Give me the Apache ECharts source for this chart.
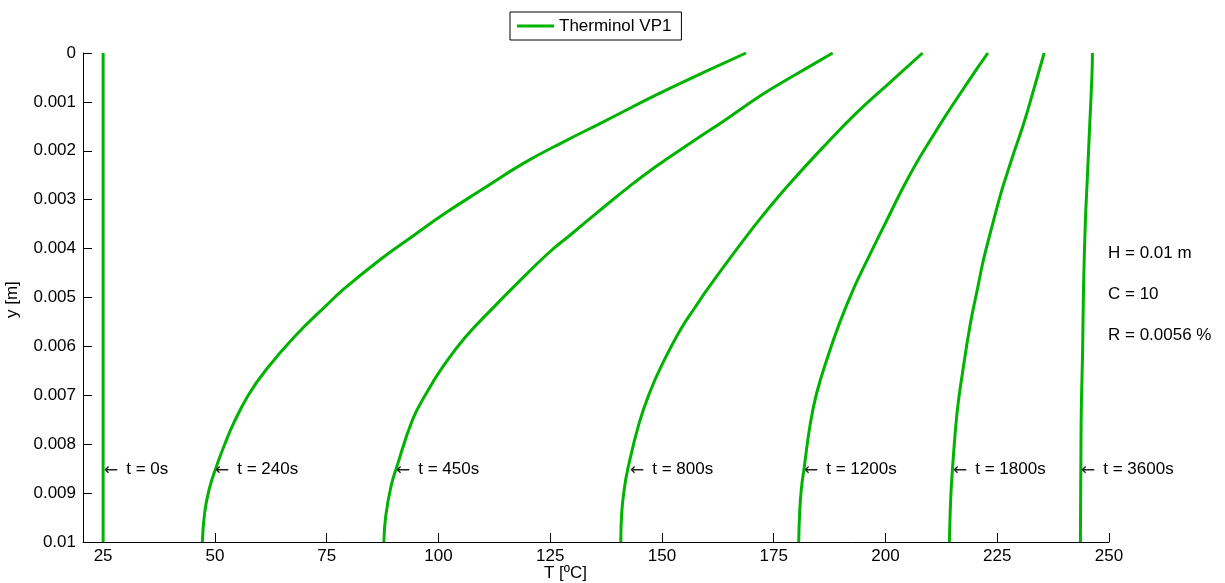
<!DOCTYPE html>
<html>
<head>
<meta charset="utf-8">
<script src="https://cdn.jsdelivr.net/npm/echarts@6/dist/echarts.min.js"></script>
<style>
html,body{margin:0;padding:0;background:#fff;}
#chart{width:1225px;height:583px;}
</style>
</head>
<body>
<div id="chart"></div>
<script>
// ---- data ([T in ºC, y in m]) ----
const curve0 = [[25, 0], [25, 0.01]];
const curve240 = [[168.8,0],[157.1,0.000494],[148.5,0.000868],[136.8,0.001413],[127.9,0.001821],[118.9,0.002262],[110.1,0.002773],[101.4,0.003283],[94.0,0.003761],[87.3,0.004202],[79.0,0.004814],[75.0,0.005155],[67.8,0.005802],[61.4,0.006482],[57.5,0.006993],[54.2,0.00757],[52.3,0.00798],[50.2,0.00849],[48.7,0.00893],[47.7,0.00941],[47.2,0.01]];
const curve450 = [[188.2,0],[180.2,0.000425],[172.7,0.000833],[164.0,0.001378],[157.3,0.001786],[148.5,0.002332],[142.1,0.002773],[135.7,0.00325],[129.9,0.003691],[124.5,0.0041],[116.5,0.004814],[113.2,0.00512],[106.1,0.005802],[101.0,0.006415],[97.3,0.006958],[94.2,0.007503],[90.6,0.00849],[89.4,0.00886],[88.2,0.00948],[87.8,0.01]];
const curve800 = [[208.3,0],[201.1,0.000596],[193.7,0.001209],[186.8,0.001854],[178.6,0.00267],[172.3,0.003352],[167.7,0.003895],[160.3,0.004814],[157.5,0.00519],[154.1,0.005666],[149.8,0.006415],[147.2,0.006958],[144.9,0.00757],[142.4,0.00849],[141.6,0.0089],[141.0,0.0094],[140.8,0.01]];
const curve1200 = [[222.9,0],[220.7,0.00029],[216.7,0.000833],[213.5,0.001276],[210.0,0.001786],[207.5,0.00216],[204.0,0.00274],[200.3,0.00342],[195.9,0.004236],[192.9,0.004814],[189.7,0.005529],[187.1,0.00621],[184.6,0.006958],[183.2,0.00757],[181.8,0.00849],[181.2,0.0089],[180.8,0.0094],[180.6,0.01]];
const curve1800 = [[235.5,0],[233.1,0.000766],[230.9,0.001446],[228.4,0.002127],[227.2,0.002466],[225.8,0.002875],[223.8,0.003556],[221.9,0.004236],[220.6,0.004814],[219.0,0.005529],[217.1,0.006619],[216.0,0.007366],[215.0,0.00849],[214.6,0.0091],[214.3,0.01]];
const curve3600 = [[246.3,0],[246.2,0.000425],[245.7,0.001446],[245.2,0.002466],[244.7,0.003487],[244.3,0.004814],[244.1,0.006074],[243.8,0.0073],[243.7,0.00849],[243.6,0.01]];

const curves = [curve0, curve240, curve450, curve800, curve1200, curve1800, curve3600];
const seriesName = 'Therminol VP1';

const labelTexts = ['t = 0s', 't = 240s', 't = 450s', 't = 800s', 't = 1200s', 't = 1800s', 't = 3600s'];
const labelT = [25.3, 50.1, 90.5, 142.8, 181.8, 215.1, 243.8];
const labelDepth = 0.0085;

const xTicks = [25, 50, 75, 100, 125, 150, 175, 200, 225, 250];
const xMin = 20.5, xMax = 250;
const yMin = 0, yMax = 0.01, yStep = 0.001;

const noteTexts = ['H = 0.01 m', 'C = 10', 'R = 0.0056 %'];

// ---- chart ----
const FONT = "'Liberation Sans', Arial, Helvetica, sans-serif";
const ARROW_FONT = "'DejaVu Sans', sans-serif";
const GREEN = '#00b300';
const chart = echarts.init(document.getElementById('chart'), null, {renderer: 'canvas'});

const lineSeries = curves.map(c => ({
  name: seriesName,
  type: 'line',
  data: c,
  showSymbol: false,
  symbol: 'none',
  smooth: 0.45,
  lineStyle: {color: GREEN, width: 3},
  itemStyle: {color: GREEN},
  silent: true,
  animation: false,
  z: 2
}));

const noteGraphics = noteTexts.map((t, i) => ({
  type: 'text',
  left: 1108,
  top: 253 + i * 41 - 8,
  style: {text: t, font: '17px ' + FONT, fill: '#000'}
}));

chart.setOption({
  backgroundColor: '#fff',
  animation: false,
  textStyle: {fontFamily: FONT},
  grid: {left: 83, right: 116, top: 53, bottom: 41, containLabel: false, outerBoundsMode: 'none'},
  legend: {
    data: [seriesName],
    left: 510,
    top: 12,
    icon: 'rect',
    itemWidth: 37,
    itemHeight: 3,
    itemGap: 0,
    itemStyle: {color: GREEN},
    borderColor: '#000',
    borderWidth: 1,
    padding: [4, 10, 4, 7],
    backgroundColor: '#fff',
    textStyle: {fontFamily: FONT, fontSize: 17, color: '#000', lineHeight: 20},
    selectedMode: false
  },
  xAxis: {
    type: 'value',
    min: xMin,
    max: xMax,
    axisLine: {show: true, onZero: false, lineStyle: {color: '#000', width: 1}},
    axisTick: {show: true, inside: true, length: 9, customValues: xTicks, lineStyle: {color: '#000'}},
    axisLabel: {show: true, customValues: xTicks, margin: 6, color: '#000', fontFamily: FONT, fontSize: 17},
    splitLine: {show: false}
  },
  yAxis: {
    type: 'value',
    inverse: true,
    min: yMin,
    max: yMax,
    interval: yStep,
    axisLine: {show: true, onZero: false, lineStyle: {color: '#000', width: 1}},
    axisTick: {show: true, inside: true, length: 9, lineStyle: {color: '#000'}},
    axisLabel: {show: true, margin: 7, color: '#000', fontFamily: FONT, fontSize: 17,
      formatter: v => String(+Number(v).toFixed(4))},
    splitLine: {show: false}
  },
  series: lineSeries
});

// time labels "← t = ..." anchored to data coordinates through the chart's own scales
const timeLabelGraphics = labelT.map((t, i) => {
  const p = chart.convertToPixel({seriesIndex: 0}, [t, labelDepth]);
  return {
    type: 'text',
    x: Math.round(p[0]),
    y: Math.round(p[1]),
    z: 10,
    style: {
      text: '{a|\u2190}{b|' + labelTexts[i] + '}',
      verticalAlign: 'middle',
      align: 'left',
      rich: {
        a: {fontFamily: ARROW_FONT, fontSize: 17, fill: '#222', color: '#222', padding: [3, 0, 0, 0]},
        b: {fontFamily: FONT, fontSize: 17, fill: '#000', color: '#000', padding: [0, 0, 0, 8]}
      }
    }
  };
});

chart.setOption({
  graphic: [
    ...noteGraphics,
    {type: 'text', left: 544, top: 565, style: {text: 'T [\u00baC]', font: '17px ' + FONT, fill: '#000'}},
    {type: 'text', x: 4, y: 318, rotation: Math.PI / 2, style: {text: 'y [m]', font: '17px ' + FONT, fill: '#000'}},
    ...timeLabelGraphics
  ]
});
</script>
</body>
</html>
